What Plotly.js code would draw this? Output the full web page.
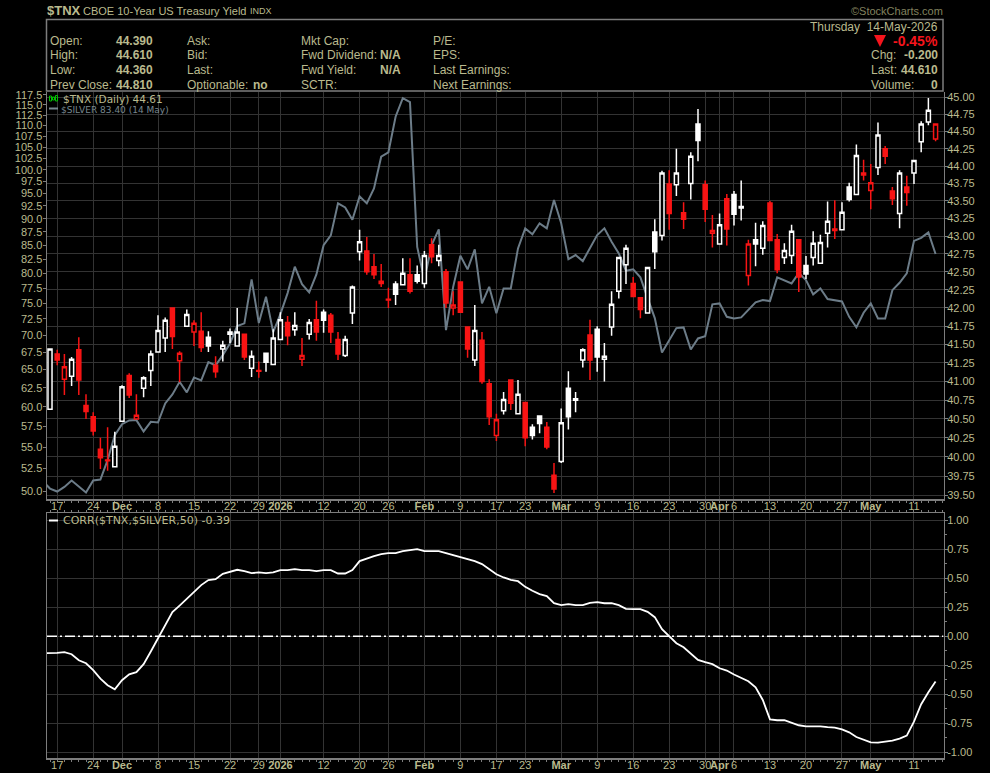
<!DOCTYPE html>
<html><head><meta charset="utf-8">
<script src="https://cdn.plot.ly/plotly-3.0.1.min.js"></script>
<style>html,body{margin:0;padding:0;background:#000}#c{width:990px;height:773px}</style>
</head><body><div id="c"></div>
<script>
const open = [40.63,41.37,41.03,41.07,41.43,40.68,40.53,40.10,39.96,39.87,40.47,41.08,40.50,40.91,41.15,41.40,41.59,42.00,41.28,41.75,41.67,41.68,41.60,41.22,41.44,41.64,41.48,41.64,41.18,41.15,41.38,41.23,41.57,41.80,41.70,41.30,41.64,41.84,41.94,41.90,41.57,41.35,41.93,42.78,42.79,42.57,42.34,42.12,42.33,42.32,42.46,42.46,42.34,42.88,42.66,42.50,42.00,42.36,41.74,41.29,41.56,40.97,40.28,40.61,41.02,40.57,40.72,40.39,40.54,40.39,39.76,39.94,40.91,40.75,41.29,41.63,41.71,41.30,41.74,42.23,42.60,42.34,42.14,41.93,43.06,43.01,43.74,43.73,43.33,43.75,44.61,43.73,43.04,42.89,43.53,43.59,43.42,42.45,42.95,42.83,43.47,42.95,42.70,42.73,42.95,42.59,42.70,42.62,43.04,43.10,43.09,43.70,43.59,43.90,43.65,43.98,44.25,43.64,43.32,43.70,43.90,44.35,44.64,44.39];
const high = [41.44,41.43,41.37,41.33,41.60,40.83,40.59,40.25,40.39,40.33,40.95,41.11,40.83,41.07,41.42,41.90,41.87,42.01,41.41,41.98,41.83,41.94,41.68,41.34,41.55,41.72,42.00,41.64,41.42,41.27,41.38,41.71,41.94,41.89,41.94,41.59,41.85,42.10,41.98,41.93,41.67,41.62,42.31,43.09,42.99,42.75,42.61,42.28,42.37,42.69,42.69,42.59,42.79,42.97,42.88,42.54,42.23,42.36,41.74,42.04,41.67,41.03,40.57,40.86,41.03,41.02,40.72,40.43,40.55,40.46,39.92,40.64,41.14,40.86,41.45,41.84,41.75,41.52,42.23,42.70,42.88,42.43,42.14,42.56,43.24,43.93,43.94,44.25,43.48,44.20,44.83,43.79,43.30,43.32,43.60,43.64,43.79,42.95,43.19,43.21,43.50,43.03,42.90,43.16,42.95,42.72,43.07,43.02,43.49,43.51,43.48,43.76,44.31,44.09,44.03,44.63,44.29,43.70,43.94,43.86,44.08,44.65,44.99,44.61];
const low = [40.62,41.22,40.82,40.94,40.82,40.50,40.28,39.84,39.82,39.87,40.46,40.78,40.50,40.79,40.94,41.40,41.40,41.44,40.99,41.74,41.48,41.40,41.40,41.05,41.27,41.52,41.48,41.29,41.06,41.05,41.13,41.23,41.57,41.49,41.62,41.21,41.57,41.55,41.66,41.52,41.29,41.33,41.78,42.66,42.46,42.40,42.29,42.00,42.04,42.32,42.20,42.34,42.28,42.62,42.58,42.00,41.90,41.93,41.32,41.21,40.97,40.42,40.21,40.56,40.62,40.57,40.14,40.23,40.31,40.10,39.53,39.92,40.36,40.59,41.19,41.02,41.13,41.00,41.62,42.13,42.33,42.15,41.86,41.92,42.54,42.94,43.09,43.57,43.10,43.52,44.07,43.20,42.84,42.89,42.87,43.15,43.22,42.31,42.58,42.74,42.93,42.48,42.61,42.61,42.22,42.40,42.59,42.61,42.84,42.96,43.08,43.49,43.59,43.79,43.38,43.87,44.03,43.44,43.11,43.43,43.74,44.20,44.59,44.36];
const close = [41.44,41.29,41.20,41.30,41.02,40.60,40.34,39.99,39.95,40.14,40.93,40.82,40.55,41.05,41.37,41.69,41.83,41.61,41.38,41.91,41.79,41.46,41.48,41.13,41.49,41.67,41.67,41.33,41.34,41.14,41.26,41.59,41.84,41.62,41.76,41.35,41.80,41.67,41.83,41.67,41.37,41.57,42.29,42.92,42.50,42.46,42.37,42.11,42.19,42.48,42.23,42.37,42.73,42.71,42.73,42.07,42.04,41.94,41.44,41.69,41.00,40.53,40.49,40.76,40.71,40.83,40.25,40.28,40.44,40.13,39.58,40.45,40.53,40.77,41.43,41.29,41.33,41.34,42.05,42.70,42.83,42.16,41.98,42.56,42.78,43.90,43.32,43.90,43.24,44.14,44.37,43.38,43.08,43.16,43.10,43.31,43.40,42.89,42.89,43.15,42.94,42.53,42.80,43.07,42.43,42.47,42.90,42.91,43.21,43.08,43.34,43.52,44.15,43.87,43.76,44.45,44.14,43.53,43.90,43.62,44.08,44.61,44.81,44.61];
const silverBefore = 51.1;
const silver = [50.29,49.97,50.47,51.17,50.54,49.86,51.17,51.28,53.47,56.43,57.78,58.25,58.29,56.88,58.07,57.99,60.42,61.61,63.31,61.88,63.91,63.5,66.06,65.59,67.06,68.77,71.39,71.81,78.96,71.85,76.05,70.46,73.26,76.65,81.14,78.15,76.76,79.81,85.0,86.81,93.01,92.21,89.79,94.43,93.01,96.07,102.86,103.84,112.12,116.68,115.68,84.69,78.84,85.0,87.94,70.77,77.69,83.08,80.68,84.23,74.97,77.69,73.38,77.42,77.42,84.41,88.13,87.0,89.1,88.13,93.68,89.1,82.48,83.2,82.13,84.41,86.87,88.13,85.62,83.51,80.43,80.68,79.30,75.83,72.63,67.44,69.26,71.08,71.19,67.88,69.51,69.85,74.81,74.97,72.83,72.58,72.74,73.9,75.13,75.5,75.34,79.3,78.84,78.27,80.03,78.84,76.44,77.42,75.67,75.51,75.29,72.83,71.19,73.47,74.97,72.58,72.58,77.14,78.37,79.98,85.78,86.34,87.37,83.4];
const corrBefore = -0.147;
const corr = [-0.147,-0.144,-0.138,-0.155,-0.207,-0.233,-0.293,-0.365,-0.422,-0.457,-0.379,-0.328,-0.310,-0.241,-0.132,-0.020,0.103,0.207,0.264,0.325,0.388,0.440,0.483,0.491,0.537,0.555,0.572,0.560,0.543,0.549,0.543,0.549,0.569,0.569,0.578,0.569,0.569,0.560,0.569,0.569,0.540,0.540,0.569,0.647,0.670,0.690,0.707,0.716,0.716,0.733,0.741,0.750,0.733,0.733,0.733,0.716,0.698,0.678,0.664,0.647,0.621,0.578,0.534,0.506,0.486,0.474,0.425,0.391,0.362,0.345,0.284,0.267,0.276,0.267,0.267,0.287,0.293,0.284,0.284,0.267,0.236,0.233,0.233,0.210,0.164,0.060,0,-0.060,-0.095,-0.149,-0.204,-0.224,-0.241,-0.276,-0.296,-0.330,-0.362,-0.388,-0.440,-0.549,-0.716,-0.724,-0.724,-0.744,-0.767,-0.776,-0.776,-0.776,-0.784,-0.787,-0.802,-0.828,-0.868,-0.894,-0.914,-0.917,-0.908,-0.899,-0.882,-0.856,-0.736,-0.586,-0.483,-0.391];
const dateTickIdx = [1,6,10,15,20,25,29,32,38,43,47,52,57,62,66,71,76,81,86,91,93,95,100,105,110,114,120];
const dateTickText = ['17','24','<b>Dec</b>','8','15','22','29','<b>2026</b>','12','20','26','<b>Feb</b>','9','17','23','<b>Mar</b>','9','16','23','30','<b>Apr</b>','6','13','20','27','<b>May</b>','11'];
const tnxTicks = [45,44.75,44.5,44.25,44,43.75,43.5,43.25,43,42.75,42.5,42.25,42,41.75,41.5,41.25,41,40.75,40.5,40.25,40,39.75,39.5];
const silverTicks = [50,52.5,55,57.5,60,62.5,65,67.5,70,72.5,75,77.5,80,82.5,85,87.5,90,92.5,95,97.5,100,102.5,105,107.5,110,112.5,115,117.5];
const corrTicks = [1,0.75,0.5,0.25,0,-0.25,-0.5,-0.75,-1];

const W=990,H=773;
const TAN='#BABA8E', GRID='#333333', FRAME='#7d7d7d', SILVERC='#6C7C88', RED='#F81414';
const px=x=>x/W, py=y=>1-y/H;
const F='Liberation Sans';
const idx=open.map((_,i)=>i);

function candleTrace(color,filled){
  const keep=idx.filter(i=>{
    const toneW=i===0||close[i]>=close[i-1];
    const isFilled=close[i]<open[i];
    return (color==='#FFFFFF')===toneW && isFilled===filled;
  });
  return {type:'candlestick',xaxis:'x',yaxis:'y2',x:keep,
    open:keep.map(i=>open[i]),high:keep.map(i=>high[i]),low:keep.map(i=>low[i]),close:keep.map(i=>close[i]),
    whiskerwidth:0,hoverinfo:'skip',showlegend:false,
    increasing:{line:{color:color,width:1.5},fillcolor:'#000000'},
    decreasing:{line:{color:color,width:1.5},fillcolor:color}};
}
const traces=[
 {type:'scatter',mode:'lines',xaxis:'x',yaxis:'y',x:[-1].concat(idx),y:[silverBefore].concat(silver),line:{color:SILVERC,width:2},hoverinfo:'skip',showlegend:false},
 candleTrace('#FFFFFF',false),candleTrace('#FFFFFF',true),candleTrace(RED,false),candleTrace(RED,true),
 {type:'scatter',mode:'lines',xaxis:'x2',yaxis:'y3',x:[-1].concat(idx),y:[corrBefore].concat(corr),line:{color:'#FFFFFF',width:1.8},hoverinfo:'skip',showlegend:false}
];

const xDom=[px(47),px(943.5)], xRange=[-0.417,124.1];
const mainDom=[py(499.3),py(92)], lowDom=[py(758.3),py(513.3)];
const tf={family:F,size:11,color:TAN};
const xCommon={type:'linear',domain:xDom,range:xRange,tickmode:'array',tickvals:dateTickIdx,ticktext:dateTickText,tickangle:0,
  showgrid:true,gridcolor:GRID,gridwidth:1,zeroline:false,showline:true,linecolor:FRAME,linewidth:1.5,
  ticks:'',tickfont:{family:F,size:11,color:TAN},ticklen:0,ticklabelstandoff:-4,
  minor:{tickmode:'linear',tick0:0,dtick:1,ticks:'outside',ticklen:2,tickwidth:1,tickcolor:FRAME,showgrid:false},
  rangeslider:{visible:false},fixedrange:true};

const A=[];
function txt(t,x,y,o={}){const right=o.a==='right';A.push({text:t,xref:'paper',yref:'paper',x:px(x+(right?1:-1.5)),y:py(y),xanchor:o.a||'left',yanchor:'middle',showarrow:false,borderpad:0,
  font:{family:o.f||F,size:o.s||12,color:o.c||TAN}});}
txt('<b>$TNX</b>',47.5,11,{s:13});
txt('CBOE 10-Year US Treasury Yield',83,11,{s:11});
txt('INDX',250,11.5,{s:9});
txt('©StockCharts.com',943,11.5,{a:'right',s:11,c:'#82825F'});
const rows=[41,55.5,70,85];
[['Open:','44.390'],['High:','44.610'],['Low:','44.360'],['Prev Close:','44.810']].forEach((r,i)=>{txt(r[0],50.5,rows[i]);txt('<b>'+r[1]+'</b>',116,rows[i]);});
['Ask:','Bid:','Last:','Optionable:'].forEach((t,i)=>txt(t,187,rows[i]));
txt('<b>no</b>',253,rows[3]);
['Mkt Cap:','Fwd Dividend:','Fwd Yield:','SCTR:'].forEach((t,i)=>txt(t,301,rows[i]));
txt('<b>N/A</b>',380.5,rows[1]);txt('<b>N/A</b>',380.5,rows[2]);
['P/E:','EPS:','Last Earnings:','Next Earnings:'].forEach((t,i)=>txt(t,433,rows[i]));
txt('Thursday  14-May-2026',938,26.5,{a:'right'});
txt('<b>-0.45%</b>',938,41,{a:'right',s:14,c:'#F5141C'});
txt('Chg:',871,rows[1]);txt('<b>-0.200</b>',938,rows[1],{a:'right'});
txt('Last:',871,rows[2]);txt('<b>44.610</b>',938,rows[2],{a:'right'});
txt('Volume:',871,rows[3]);txt('<b>0</b>',938,rows[3],{a:'right'});
txt('$TNX (Daily) 44.61',63,98.5,{f:'DejaVu Sans',s:10.5});
txt('$SILVER 83.40 (14 May)',61,109.5,{f:'DejaVu Sans',s:9,c:'#78888F'});
txt('CORR($TNX,$SILVER,50) -0.39',63,520.5,{f:'DejaVu Sans',s:11});

function rect(x0,y0,x1,y1,o={}){return {type:'rect',xref:'paper',yref:'paper',x0:px(x0),x1:px(x1),y0:py(y0),y1:py(y1),line:{color:o.c||FRAME,width:o.w===undefined?1.5:o.w},fillcolor:o.fill||'rgba(0,0,0,0)',layer:o.layer||'above'};}
const S=[
 rect(46.5,19.5,943,91),
 {type:'path',xref:'paper',yref:'paper',path:`M ${px(874)} ${py(35)} L ${px(886)} ${py(35)} L ${px(880)} ${py(47)} Z`,fillcolor:'#F5141C',line:{width:0}},
 rect(49.5,96,51.5,101,{c:'#00C000',w:1}),rect(52.5,97,54.5,100,{c:'#00C000',w:1}),rect(55.5,95.5,57.5,101,{c:'#00C000',w:1}),
 rect(49,107.5,58,109.5,{c:'#78888F',w:0,fill:'#78888F'}),
 rect(49,519.5,58,521.5,{c:'#FFFFFF',w:0,fill:'#FFFFFF'}),
 {type:'line',xref:'x2',yref:'y3',x0:xRange[0],x1:xRange[1],y0:0,y1:0,line:{color:'#FFFFFF',width:1.5,dash:'10px,3px,2px,3px'},layer:'above'}
];
const layout={width:W,height:H,margin:{l:0,r:0,t:0,b:0,pad:0},paper_bgcolor:'#000',plot_bgcolor:'#000',showlegend:false,
 boxmode:'overlay',boxgap:0.2,dragmode:false,hovermode:false,
 xaxis:Object.assign({},xCommon,{anchor:'y'}),
 xaxis2:Object.assign({},xCommon,{anchor:'y3',mirror:'allticks'}),
 yaxis:{type:'log',domain:mainDom,anchor:'x',side:'left',range:[Math.log10(49.14),Math.log10(118.26)],tickmode:'array',tickvals:silverTicks,ticktext:silverTicks.map(v=>v.toFixed(1)),
   showgrid:false,zeroline:false,showline:true,linecolor:FRAME,linewidth:1.5,ticks:'outside',ticklen:3,tickcolor:FRAME,tickwidth:1,tickfont:tf,ticklabelstandoff:-2,fixedrange:true},
 yaxis2:{type:'log',domain:mainDom,anchor:'x',overlaying:'y',side:'right',range:[Math.log10(39.448),Math.log10(45.08)],tickmode:'array',tickvals:tnxTicks,ticktext:tnxTicks.map(v=>v.toFixed(2)),
   showgrid:true,gridcolor:GRID,gridwidth:1,zeroline:false,showline:true,linecolor:FRAME,linewidth:1.5,ticks:'outside',ticklen:3,tickcolor:FRAME,tickwidth:1,tickfont:tf,ticklabelstandoff:-3,fixedrange:true},
 yaxis3:{type:'linear',domain:lowDom,anchor:'x2',side:'right',range:[-1.0517,1.0586],tickmode:'array',tickvals:corrTicks,ticktext:corrTicks.map(v=>v.toFixed(2)),
   showgrid:true,gridcolor:GRID,gridwidth:1,zeroline:false,showline:true,mirror:true,linecolor:FRAME,linewidth:1.5,ticks:'outside',ticklen:3,tickcolor:FRAME,tickwidth:1,tickfont:tf,ticklabelstandoff:-3,fixedrange:true,
   minor:{tickmode:'linear',tick0:0,dtick:0.125,ticks:'outside',ticklen:2,tickwidth:1,tickcolor:FRAME,showgrid:false}},
 annotations:A,shapes:S};
Plotly.newPlot('c',traces,layout,{displayModeBar:false,staticPlot:true});
</script></body></html>
